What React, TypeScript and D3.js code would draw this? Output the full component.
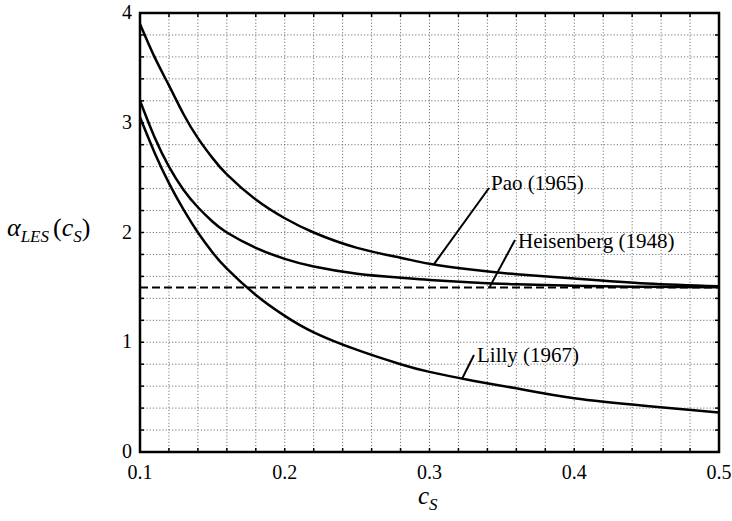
import React from "react";
import * as d3 from "d3";

const cS = [0.1, 0.11, 0.12, 0.13, 0.14, 0.15, 0.16, 0.18, 0.2, 0.22, 0.25, 0.28, 0.3, 0.33, 0.36, 0.4, 0.45, 0.5];
const pao = [3.9, 3.6, 3.34, 3.08, 2.86, 2.68, 2.53, 2.3, 2.13, 2.0, 1.86, 1.77, 1.715, 1.66, 1.62, 1.58, 1.535, 1.51];
const heisenbergSpec = [3.2, 2.87, 2.6, 2.39, 2.23, 2.1, 2.0, 1.86, 1.76, 1.69, 1.625, 1.588, 1.568, 1.545, 1.528, 1.515, 1.505, 1.5];
const lilly = [3.05, 2.73, 2.45, 2.21, 2.0, 1.82, 1.67, 1.43, 1.24, 1.09, 0.93, 0.8, 0.73, 0.65, 0.58, 0.49, 0.42, 0.36];
const asymptote = 1.5;

const xTicks = [0.1, 0.2, 0.3, 0.4, 0.5];
const yTicks = [0, 1, 2, 3, 4];
const xGrid = d3.range(0, 21).map((i) => 0.1 + i * 0.02);
const yGrid = d3.range(0, 21).map((i) => i * 0.2);

const W = 732, H = 521;
const L = 140, R = 719, T = 13, B = 452;

export default function App() {
  const x = d3.scaleLinear().domain([0.1, 0.5]).range([L, R]);
  const y = d3.scaleLinear().domain([0, 4]).range([B, T]);
  const line = (vals: number[]) =>
    d3.line<number>().x((_, i) => x(cS[i])).y((v) => y(v)).curve(d3.curveNatural)(vals) || "";
  const font = "Liberation Serif, Times New Roman, serif";
  const ts = { fontFamily: font };

  return (
    <svg width={W} height={H} style={{ position: "absolute", left: 0, top: 0, background: "#fff", fontFamily: font }}>
      {/* grid */}
      {xGrid.slice(1, -1).map((g, i) => (
        <line key={"gx" + i} x1={x(g)} x2={x(g)} y1={T} y2={B} stroke="#666" strokeWidth={0.9} strokeDasharray="1.2,2" />
      ))}
      {yGrid.slice(1, -1).map((g, i) => (
        <line key={"gy" + i} x1={L} x2={R} y1={y(g)} y2={y(g)} stroke="#666" strokeWidth={0.9} strokeDasharray="1.2,2" />
      ))}
      {/* minor ticks */}
      {xGrid.map((g, i) => (
        <g key={"tx" + i}>
          <line x1={x(g)} x2={x(g)} y1={B} y2={B - 4} stroke="#000" strokeWidth={1.5} />
          <line x1={x(g)} x2={x(g)} y1={T} y2={T + 4} stroke="#000" strokeWidth={1.5} />
        </g>
      ))}
      {yGrid.map((g, i) => (
        <g key={"ty" + i}>
          <line x1={L} x2={L + 4} y1={y(g)} y2={y(g)} stroke="#000" strokeWidth={1.5} />
          <line x1={R} x2={R - 4} y1={y(g)} y2={y(g)} stroke="#000" strokeWidth={1.5} />
        </g>
      ))}
      {/* curves */}
      <line x1={x(0.1)} x2={x(0.5)} y1={y(asymptote)} y2={y(asymptote)} stroke="#000" strokeWidth={2} strokeDasharray="8,4" />
      <path d={line(pao)} fill="none" stroke="#000" strokeWidth={2.5} />
      <path d={line(heisenbergSpec)} fill="none" stroke="#000" strokeWidth={2.5} />
      <path d={line(lilly)} fill="none" stroke="#000" strokeWidth={2.5} />
      {/* frame */}
      <rect x={L} y={T} width={R - L} height={B - T} fill="none" stroke="#000" strokeWidth={2.5} />
      {/* tick labels */}
      {xTicks.map((t) => (
        <text key={"xl" + t} x={x(t)} y={479} textAnchor="middle" fontSize={20} style={ts}>{t.toFixed(1)}</text>
      ))}
      {yTicks.map((t) => (
        <text key={"yl" + t} x={132} y={y(t) + 6} textAnchor="end" fontSize={20} style={ts}>{t}</text>
      ))}
      {/* annotations */}
      <line x1={x(0.303)} y1={y(1.71)} x2={489} y2={188} stroke="#000" strokeWidth={2} />
      <text x={491} y={190} fontSize={21} style={ts}>Pao (1965)</text>
      <line x1={x(0.3414)} y1={y(1.5)} x2={515} y2={240} stroke="#000" strokeWidth={2} />
      <text x={518} y={248} fontSize={21} style={ts}>Heisenberg (1948)</text>
      <line x1={x(0.3224)} y1={y(0.665)} x2={474} y2={355} stroke="#000" strokeWidth={2} />
      <text x={477} y={362} fontSize={21} style={ts}>Lilly (1967)</text>
      {/* axis labels */}
      <text x={418} y={504} fontSize={25} fontStyle="italic" style={ts}>c<tspan fontSize={17} dy={6}>S</tspan></text>
      <text x={7} y={236} fontSize={26} fontStyle="italic" style={ts}>α<tspan fontSize={17} dy={6}>LES</tspan><tspan dy={-6} dx={4} fontStyle="normal">(</tspan>c<tspan fontSize={17} dy={6}>S</tspan><tspan dy={-6} fontStyle="normal">)</tspan></text>
    </svg>
  );
}
